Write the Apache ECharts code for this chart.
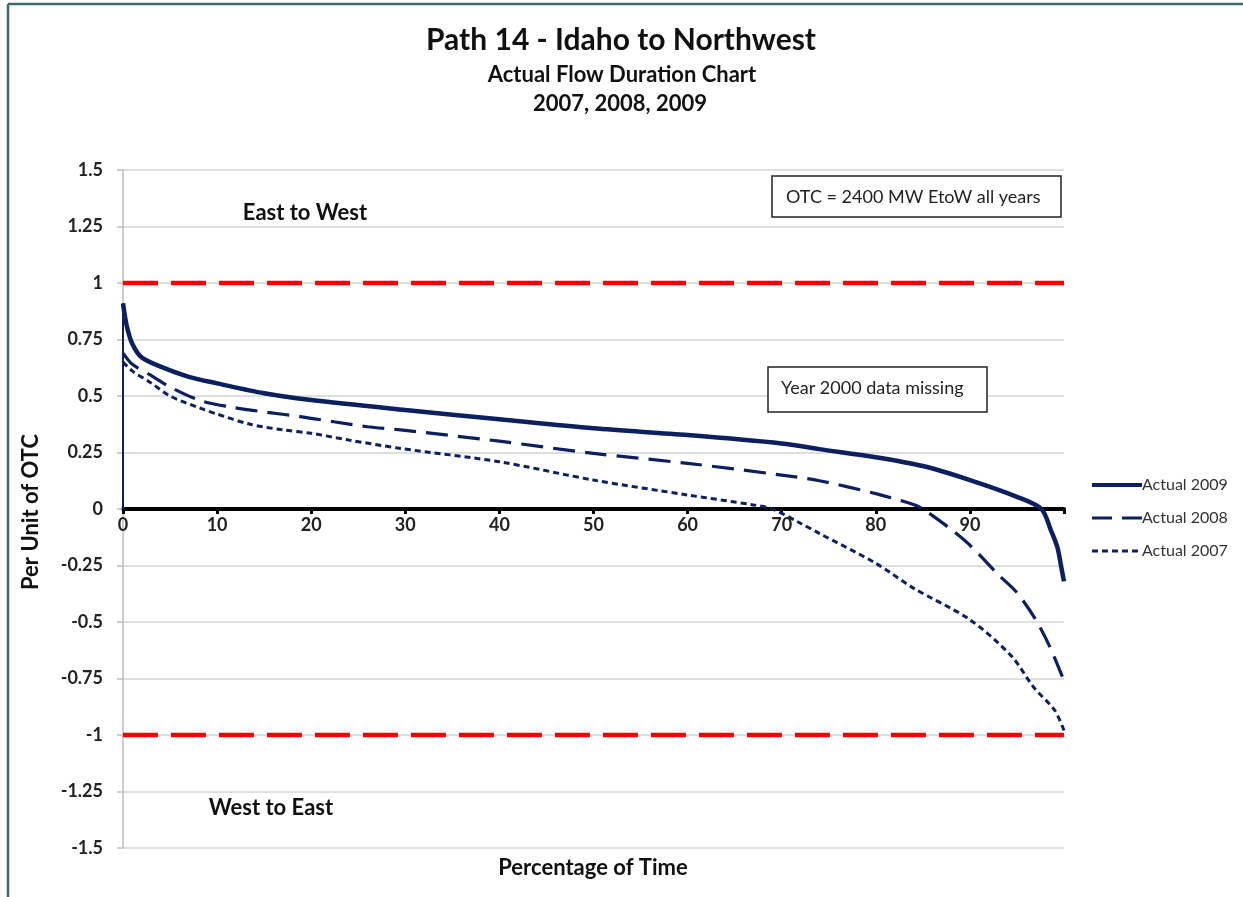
<!DOCTYPE html>
<html>
<head>
<meta charset="utf-8">
<script src="https://cdn.jsdelivr.net/npm/echarts@6/dist/echarts.min.js"></script>
<style>
  html, body { margin: 0; padding: 0; background: #ffffff; }
  #chart { width: 1243px; height: 897px; }
</style>
</head>
<body>
<div id="chart"></div>
<script>
// ---- data ----
const seriesNames = ['Actual 2009', 'Actual 2008', 'Actual 2007'];

const x2009 = [0, 0.4, 1, 2, 4, 7, 10, 15, 20, 30, 40, 50, 60, 70, 74, 80, 85, 90, 95, 97.6, 98.6, 99.3, 99.7, 100];
const y2009 = [0.91, 0.81, 0.73, 0.67, 0.63, 0.585, 0.556, 0.512, 0.482, 0.438, 0.397, 0.357, 0.327, 0.29, 0.265, 0.229, 0.19, 0.128, 0.054, 0.0, -0.093, -0.17, -0.255, -0.32];

const x2008 = [0, 1, 2.9, 5, 8.2, 11.2, 15.3, 19, 22.4, 26, 29.5, 40, 50, 60, 70, 74, 80, 84, 85, 88, 90, 93, 95, 97, 98.5, 100];
const y2008 = [0.69, 0.64, 0.593, 0.54, 0.48, 0.453, 0.428, 0.408, 0.386, 0.364, 0.35, 0.30, 0.246, 0.202, 0.15, 0.125, 0.068, 0.02, 0.0, -0.09, -0.16, -0.29, -0.37, -0.49, -0.61, -0.76];

const x2007 = [0, 1, 2.9, 5, 8.2, 10, 13.5, 17, 20, 24, 29.5, 40, 50, 60, 67, 69, 72, 74, 80, 84, 90, 94.4, 96.8, 99, 100];
const y2007 = [0.65, 0.61, 0.56, 0.5, 0.446, 0.42, 0.375, 0.35, 0.335, 0.305, 0.268, 0.209, 0.128, 0.062, 0.018, 0.0, -0.063, -0.108, -0.24, -0.35, -0.49, -0.65, -0.79, -0.89, -0.98];

const otcLimits = [1, -1];
const xRange = [0, 100];
const yTicks = [-1.5, -1.25, -1, -0.75, -0.5, -0.25, 0, 0.25, 0.5, 0.75, 1, 1.25, 1.5];

// ---- chart ----
const navy = '#0c1f5e';
const font = 'Lato, "Open Sans", sans-serif';
const zip = (xs, ys) => xs.map((x, i) => [x, ys[i]]);

const gridTop = 170, gridBottom = 49, pageH = 897;
const plotH = pageH - gridTop - gridBottom;
const yMin = yTicks[0], yMax = yTicks[yTicks.length - 1];
// distance from plot bottom up to the zero line
const zeroOffset = plotH * (0 - yMin) / (yMax - yMin);

const styles = [
  { width: 4.5, type: 'solid' },
  { width: 3.2, type: [22, 10] },
  { width: 3, type: [6, 4] }
];

const chart = echarts.init(document.getElementById('chart'), null, { renderer: 'canvas' });

const option = {
  backgroundColor: '#ffffff',
  animation: false,
  grid: { left: 123, right: 179, top: gridTop, bottom: gridBottom, containLabel: false },
  xAxis: {
    type: 'value',
    position: 'bottom',
    offset: -zeroOffset,
    min: xRange[0], max: xRange[1], interval: 10,
    axisLine: { show: true, onZero: false, lineStyle: { color: '#000000', width: 4 } },
    axisTick: { show: true, length: 5, lineStyle: { color: '#000000', width: 3 } },
    axisLabel: {
      margin: 7,
      fontFamily: font, fontWeight: 'bold', fontSize: 18, color: '#222222',
      formatter: v => (v === 100 ? '' : String(v))
    },
    splitLine: { show: false }
  },
  yAxis: {
    type: 'value',
    min: yMin, max: yMax, interval: 0.25,
    axisLine: { show: true, onZero: false, lineStyle: { color: '#bdbdbd', width: 1.5 } },
    axisTick: { show: true, inside: false, length: 6, lineStyle: { color: '#bdbdbd', width: 1.5 } },
    axisLabel: {
      margin: 20,
      fontFamily: font, fontWeight: 'bold', fontSize: 18, color: '#222222',
      formatter: v => String(v)
    },
    splitLine: { show: true, lineStyle: { color: '#d4d4d4', width: 1.5 } }
  },
  legend: {
    orient: 'vertical',
    left: 1085, top: 470,
    itemWidth: 50, itemHeight: 18, itemGap: 13,
    data: seriesNames.map((n, i) => ({
      name: n,
      lineStyle: { width: i === 0 ? 4 : 3, type: i === 2 ? [6, 4] : (i === 1 ? [20, 10] : 'solid') }
    })),
    itemStyle: { opacity: 0 },
    textStyle: { fontFamily: font, fontSize: 16, color: '#333333', padding: [0, 0, 0, -5], lineHeight: 20 }
  },
  series: [
    {
      name: 'OTC limit EtoW', type: 'line', symbol: 'none', silent: true, z: 1,
      data: xRange.map(x => [x, otcLimits[0]]),
      lineStyle: { color: '#ff0000', width: 4.5, type: [35, 13] }
    },
    {
      name: 'OTC limit WtoE', type: 'line', symbol: 'none', silent: true, z: 1,
      data: xRange.map(x => [x, otcLimits[1]]),
      lineStyle: { color: '#ff0000', width: 4.5, type: [35, 13] }
    },
    {
      name: '2009 start', type: 'line', symbol: 'none', silent: true, z: 3,
      data: [[x2009[0], 0], [x2009[0], y2009[0]]],
      lineStyle: { color: navy, width: 2 }
    },
    {
      name: seriesNames[0], type: 'line', symbol: 'none', smooth: 0.3, z: 5,
      data: zip(x2009, y2009),
      itemStyle: { color: navy },
      lineStyle: Object.assign({ color: navy }, styles[0])
    },
    {
      name: seriesNames[1], type: 'line', symbol: 'none', smooth: 0.3, z: 4,
      data: zip(x2008, y2008),
      itemStyle: { color: navy },
      lineStyle: Object.assign({ color: navy }, styles[1])
    },
    {
      name: seriesNames[2], type: 'line', symbol: 'none', smooth: 0.3, z: 4,
      data: zip(x2007, y2007),
      itemStyle: { color: navy },
      lineStyle: Object.assign({ color: navy }, styles[2])
    }
  ],
  graphic: [
    // outer frame lines (top and left)
    { type: 'line', shape: { x1: 8, y1: 4, x2: 1243, y2: 4 }, style: { stroke: '#3b6a6a', lineWidth: 2.5 }, silent: true },
    { type: 'line', shape: { x1: 8, y1: 4, x2: 8, y2: 897 }, style: { stroke: '#3b6a6a', lineWidth: 2.5 }, silent: true },
    // titles
    { type: 'text', x: 621, y: 40, style: { text: 'Path 14 - Idaho to Northwest', font: 'bold 30px ' + font, fill: '#111111', align: 'center', verticalAlign: 'middle' } },
    { type: 'text', x: 622, y: 75, style: { text: 'Actual Flow Duration Chart', font: 'bold 22px ' + font, fill: '#111111', align: 'center', verticalAlign: 'middle' } },
    { type: 'text', x: 620, y: 104, style: { text: '2007, 2008, 2009', font: 'bold 22px ' + font, fill: '#111111', align: 'center', verticalAlign: 'middle' } },
    // axis names
    { type: 'text', x: 31, y: 512, rotation: Math.PI / 2, style: { text: 'Per Unit of OTC', font: 'bold 22px ' + font, fill: '#111111', align: 'center', verticalAlign: 'middle' } },
    { type: 'text', x: 593, y: 868, style: { text: 'Percentage of Time', font: 'bold 22px ' + font, fill: '#111111', align: 'center', verticalAlign: 'middle' } },
    // direction notes
    { type: 'text', x: 305, y: 213, style: { text: 'East to West', font: 'bold 22px ' + font, fill: '#111111', align: 'center', verticalAlign: 'middle' } },
    { type: 'text', x: 271, y: 808, style: { text: 'West to East', font: 'bold 22px ' + font, fill: '#111111', align: 'center', verticalAlign: 'middle' } },
    // note boxes
    { type: 'rect', shape: { x: 772, y: 176, width: 289, height: 41 }, style: { fill: '#ffffff', stroke: '#222222', lineWidth: 1.5 }, z: 10 },
    { type: 'text', x: 786, y: 197, z: 11, style: { text: 'OTC = 2400 MW EtoW all years', font: '18px ' + font, fill: '#222222', align: 'left', verticalAlign: 'middle' } },
    { type: 'rect', shape: { x: 768, y: 367, width: 219, height: 45 }, style: { fill: '#ffffff', stroke: '#222222', lineWidth: 1.5 }, z: 10 },
    { type: 'text', x: 781, y: 388, z: 11, style: { text: 'Year 2000 data missing', font: '18px ' + font, fill: '#222222', align: 'left', verticalAlign: 'middle' } }
  ]
};

chart.setOption(option);
</script>
</body>
</html>
